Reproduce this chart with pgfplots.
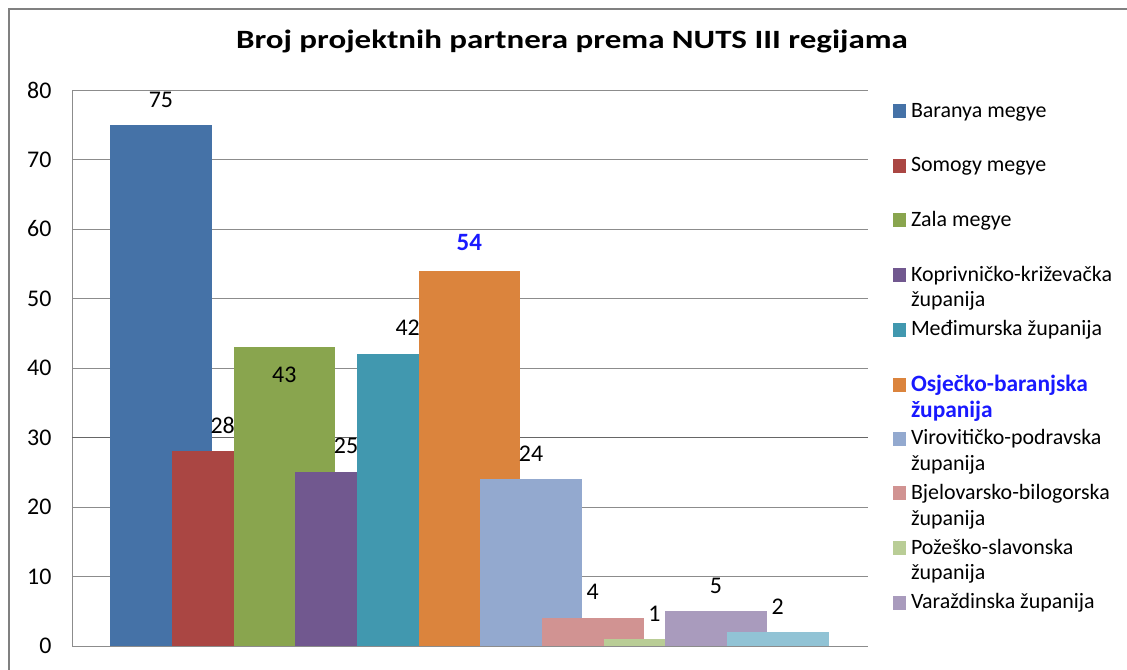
\documentclass[border=0pt]{standalone}
\usepackage{fontspec}
\setmainfont{Carlito}
\usepackage{graphicx}
\usepackage{pgfplots}
\pgfplotsset{compat=1.18}
\definecolor{c1}{HTML}{4572A7}
\definecolor{c2}{HTML}{AA4643}
\definecolor{c3}{HTML}{89A54E}
\definecolor{c4}{HTML}{71588F}
\definecolor{c5}{HTML}{4198AF}
\definecolor{c6}{HTML}{DB843D}
\definecolor{c7}{HTML}{93A9CF}
\definecolor{c8}{HTML}{D19392}
\definecolor{c9}{HTML}{B9CD96}
\definecolor{c10}{HTML}{A99BBD}
\definecolor{c11}{HTML}{91C3D5}
\definecolor{lblue}{RGB}{25,25,255}
\newcommand{\leg}[1]{\parbox[t][54.6bp][t]{210bp}{\raggedright\rule{0pt}{15bp}#1}}
\begin{document}
\begin{tikzpicture}
\useasboundingbox (-72bp,-24bp) rectangle (1055bp,646bp);
\draw[black!50, line width=1.5bp] (-63bp,-24bp) -- (-63bp,637bp) -- (1055bp,637bp);
\node[anchor=base, font=\fontsize{26.5}{30}\selectfont\bfseries] at (500bp,597bp) {\scalebox{1.25}[1]{Broj projektnih partnera prema NUTS III regijama}};
\begin{axis}[
  at={(0bp,0bp)}, anchor=south west,
  scale only axis, width=796bp, height=556bp,
  xmin=-1.443, xmax=11.464, ymin=0, ymax=80,
  ytick distance=10, xtick=\empty,
  ymajorgrids, major grid style={black!45, line width=0.8bp},
  axis x line*=bottom, axis y line*=left,
  axis line style={black!45, line width=0.8bp, -},
  y tick style={draw=none},
  yticklabel style={font=\fontsize{24}{28}\selectfont, xshift=-17bp},
  /pgf/number format/assume math mode=true,
  extra y ticks={30}, extra y tick labels={},
  extra y tick style={major grid style={black!60, line width=1.3bp}},
  ybar, bar width=1.648, bar shift=0pt,
  nodes near coords,
  every node near coord/.append style={font=\fontsize{24}{28}\selectfont, anchor=base},
  lab/.style={every node near coord/.append style={yshift=#1}},
  legend style={at={(1.0314,0.9784)}, anchor=north west, draw=none, fill=none,
    inner sep=0pt, outer sep=0pt, row sep=0pt, column sep=5bp,
    cells={anchor=base west}, nodes={inner sep=0pt, text depth=},
    font=\fontsize{22}{26}\selectfont},
  legend image code/.code={\fill[#1] (0bp,-1bp) rectangle (13bp,13bp);},
]
\addplot[fill=c1, draw=none, bar shift=0pt, lab=17bp] coordinates {(0,75)};
\addplot[fill=c2, draw=none, bar shift=0pt, lab=18bp] coordinates {(1,28)};
\addplot[fill=c3, draw=none, bar shift=0pt, lab=-35bp] coordinates {(2,43)};
\addplot[fill=c4, draw=none, bar shift=0pt, lab=19bp] coordinates {(3,25)};
\addplot[fill=c5, draw=none, bar shift=0pt, lab=19bp] coordinates {(4,42)};
\addplot[fill=c6, draw=none, bar shift=0pt, lab=20bp, every node near coord/.append style={font=\fontsize{25}{28}\selectfont\bfseries, text=lblue}] coordinates {(5,54)};
\addplot[fill=c7, draw=none, bar shift=0pt, lab=18bp] coordinates {(6,24)};
\addplot[fill=c8, draw=none, bar shift=0pt, lab=19bp] coordinates {(7,4)};
\addplot[fill=c9, draw=none, bar shift=0pt, lab=18bp] coordinates {(8,1)};
\addplot[fill=c10, draw=none, bar shift=0pt, lab=18bp] coordinates {(9,5)};
\addplot[fill=c11, draw=none, bar shift=0pt, lab=18bp, forget plot] coordinates {(10,2)};
\legend{\leg{Baranya megye}, \leg{Somogy megye}, \leg{Zala megye},
  \leg{Koprivničko-križevačka\\županija}, \leg{Međimurska županija},
  \leg{\fontsize{23.5}{26}\selectfont\bfseries\color{lblue}Osječko-baranjska\\županija},
  \leg{Virovitičko-podravska\\županija}, \leg{Bjelovarsko-bilogorska\\županija},
  \leg{Požeško-slavonska\\županija}, \leg{Varaždinska županija}}
\end{axis}
\end{tikzpicture}
\end{document}
